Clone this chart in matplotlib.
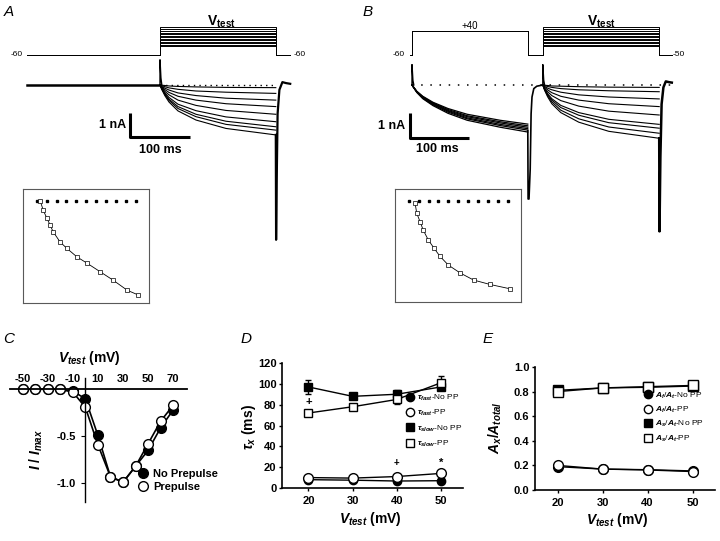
import matplotlib.pyplot as plt
from matplotlib.lines import Line2D

W, H = 720, 541

plt.rcParams['font.family'] = ['Liberation Sans', 'DejaVu Sans']
plt.rcParams['font.weight'] = 'bold'
plt.rcParams['axes.labelweight'] = 'bold'
plt.rcParams['axes.unicode_minus'] = False
plt.rcParams['mathtext.fontset'] = 'custom'
plt.rcParams['mathtext.rm'] = 'Liberation Sans:bold'
plt.rcParams['mathtext.it'] = 'Liberation Sans:italic:bold'
plt.rcParams['mathtext.bf'] = 'Liberation Sans:bold'

# ---------------- A: no prepulse (time in ms, current in nA)
t_hold_a = [-222, 0]
t_test_a = [0, 3, 8, 15, 30, 60, 110, 193]
traces_a = [
    [0, -0.01, -0.02, -0.04, -0.06, -0.08, -0.10, -0.11],
    [0, -0.03, -0.07, -0.12, -0.18, -0.25, -0.30, -0.35],
    [0, -0.06, -0.13, -0.21, -0.33, -0.44, -0.55, -0.63],
    [0, -0.08, -0.19, -0.31, -0.47, -0.63, -0.78, -0.90],
    [0, -0.11, -0.26, -0.41, -0.63, -0.85, -1.06, -1.22],
    [0, -0.14, -0.32, -0.52, -0.80, -1.07, -1.33, -1.53],
    [0, -0.16, -0.37, -0.59, -0.90, -1.22, -1.51, -1.74],
    [0, -0.17, -0.39, -0.64, -0.98, -1.32, -1.64, -1.88],
    [0, -0.19, -0.44, -0.71, -1.08, -1.46, -1.81, -2.08],
]
t_cap_a = [0, 0, 1.5, 3]
i_cap_a = [0, 1.05, 0.3, 0]
t_tail_a = [193, 193.5, 194.5, 196, 199, 204, 210, 217]
i_tail_a = [-2.08, -6.45, -4.0, -1.2, -0.2, 0.12, 0.08, 0.05]
prot_t_a = [-222, 0, 0, 193, 193, 217]

# ---------------- B: with +40 prepulse
t_pre_b = [0, 3, 8, 18, 35, 60, 92, 147, 193]
traces_pre_b = [
    [0, -0.10, -0.26, -0.47, -0.72, -0.98, -1.22, -1.47, -1.63],
    [0, -0.10, -0.27, -0.49, -0.75, -1.02, -1.28, -1.53, -1.70],
    [0, -0.11, -0.28, -0.51, -0.77, -1.06, -1.32, -1.58, -1.76],
    [0, -0.11, -0.29, -0.53, -0.80, -1.09, -1.37, -1.64, -1.82],
    [0, -0.11, -0.30, -0.55, -0.83, -1.13, -1.41, -1.69, -1.88],
    [0, -0.12, -0.31, -0.57, -0.86, -1.18, -1.47, -1.76, -1.96],
]
t_cap_b1 = [0, 0, 1.5, 3]
i_cap_b1 = [0, 0.85, 0.2, 0]
t_tail_b1 = [193, 193.5, 195, 197, 198.5, 200, 203, 208, 218]
i_tail_b1 = [-1.9, -4.75, -4.75, -3.5, -1.2, -0.5, -0.15, -0.05, 0]
t_cap_b2 = [218, 218, 219.5, 221]
i_cap_b2 = [0, 0.85, 0.2, 0]
t_test_b = [218, 221, 226, 233, 248, 278, 328, 412]
traces_test_b = [
    [0, -0.01, -0.02, -0.04, -0.05, -0.07, -0.09, -0.10],
    [0, -0.03, -0.06, -0.10, -0.15, -0.20, -0.24, -0.28],
    [0, -0.06, -0.13, -0.20, -0.30, -0.41, -0.50, -0.58],
    [0, -0.09, -0.20, -0.32, -0.47, -0.63, -0.78, -0.90],
    [0, -0.13, -0.28, -0.44, -0.65, -0.88, -1.09, -1.25],
    [0, -0.16, -0.36, -0.57, -0.85, -1.15, -1.43, -1.64],
    [0, -0.18, -0.40, -0.63, -0.94, -1.26, -1.57, -1.80],
    [0, -0.20, -0.44, -0.70, -1.05, -1.41, -1.75, -2.01],
    [0, -0.22, -0.49, -0.78, -1.15, -1.55, -1.93, -2.22],
]
t_tail_b2 = [412, 412.5, 414, 416, 419, 423, 428, 433]
i_tail_b2 = [-2.22, -6.1, -3.0, -0.8, -0.1, 0.15, 0.12, 0.1]
prot_t_b = [-3, 0, 0, 193, 193, 218, 218, 412, 412, 433]
prepulse_level = 24

# schematic heights of the V_test steps in the protocol drawings
vtest_levels = [9, 10.5, 12, 13.5, 15, 16.5, 18, 19.5, 21, 22.5, 24, 26, 28]

# insets: normalised fits
inset_dots_t = [-7, 13, 33, 53, 73, 93, 113, 133, 153, 173, 193]
inset_a_t = [0, 6, 13, 20, 26, 40, 54, 74, 95, 121, 147, 176, 198]
inset_a_i = [0, -0.10, -0.18, -0.26, -0.33, -0.44, -0.51, -0.60, -0.67, -0.76, -0.85, -0.96, -1.01]
inset_b_t = [5.5, 9, 16, 22, 32, 43, 56, 73, 97, 124, 157, 198]
inset_b_i = [-0.02, -0.14, -0.24, -0.33, -0.44, -0.53, -0.63, -0.73, -0.82, -0.90, -0.95, -1.0]

# ---------------- C: I-V
c_v = [-50, -40, -30, -20, -10, 0, 10, 20, 30, 40, 50, 60, 70]
c_nopp = [0, 0, 0, 0, -0.02, -0.10, -0.49, -0.93, -0.99, -0.82, -0.65, -0.41, -0.22]
c_pp = [0, 0, 0, 0, -0.03, -0.19, -0.59, -0.93, -0.99, -0.82, -0.58, -0.34, -0.17]
c_err = [0, 0, 0, 0, 0.01, 0.02, 0.03, 0.03, 0.04, 0.03, 0.03, 0.03, 0.02]

# ---------------- D: time constants
d_v = [20, 30, 40, 50]
fast_nopp = [8, 7.5, 6.7, 7]
fast_pp = [10, 9.5, 11, 14]
slow_nopp = [97, 88, 90, 97]
slow_pp = [72, 78, 85, 101]
fast_err = [1, 1, 1, 1.5]
slow_nopp_err = [7, 3, 4, 3]
slow_pp_err = [3, 3, 4, 7]

# ---------------- E: amplitude fractions
e_v = [20, 30, 40, 50]
af_nopp = [0.19, 0.17, 0.165, 0.155]
af_pp = [0.20, 0.17, 0.163, 0.15]
as_nopp = [0.81, 0.83, 0.835, 0.845]
as_pp = [0.80, 0.83, 0.84, 0.85]


fig = plt.figure(figsize=(7.2, 5.41), dpi=100)


def box(x0, y0, x1, y1):
    return fig.add_axes([x0 / W, 1 - y1 / H, (x1 - x0) / W, (y1 - y0) / H])


def ftext(x, y, s, **kw):
    fig.text(x / W, 1 - y / H, s, **kw)


# ---- trace panels
def trace_axes(x0, x1, t_zero):
    ax = box(x0, 50, x1, 310)
    ax.set_xlim((x0 - t_zero) / 0.6, (x1 - t_zero) / 0.6)
    ax.set_ylim(-(310 - 85) / 24, (85 - 50) / 24)
    ax.axis('off')
    return ax


def prot_axes(x0, x1, t_zero):
    ax = box(x0, 10, x1, 70)
    ax.set_xlim((x0 - t_zero) / 0.6, (x1 - t_zero) / 0.6)
    ax.set_ylim(-15, 45)
    ax.axis('off')
    return ax


# A
pa = prot_axes(0, 360, 160)
for L in vtest_levels:
    pa.plot(prot_t_a, [0, 0, L, L, 0, 0], color='k', lw=0.7)
pa.text(-228, 0, '-60', ha='right', va='center', fontsize=6, fontweight='normal')
pa.text(222, 0, '-60', ha='left', va='center', fontsize=6, fontweight='normal')
pa.text(103, 33, r'V$_{\rm test}$', ha='center', va='center', fontsize=10)

ta = trace_axes(0, 360, 160)
ta.plot(t_hold_a, [0, 0], color='k', lw=1.8)
ta.plot(t_cap_a, i_cap_a, color='k', lw=1.0)
ta.hlines(0, 0, 193, color='k', lw=1.0, linestyles=(0, (1, 3)))
for tr in traces_a:
    ta.plot(t_test_a, tr, color='k', lw=0.8)
ta.plot(t_tail_a, i_tail_a, color='k', lw=1.6)
ta.plot([-50, -50, 50], [-1.17, -2.17, -2.17], color='k', lw=2.2, solid_capstyle='butt')
ta.text(-57, -1.67, '1 nA', ha='right', va='center', fontsize=9)
ta.text(0, -2.7, '100 ms', ha='center', va='center', fontsize=9)

# B
pb = prot_axes(360, 720, 412)
for L in vtest_levels:
    pb.plot(prot_t_b, [0, 0, prepulse_level, prepulse_level, 0, 0, L, L, 0, 0], color='k', lw=0.7)
pb.text(-12, 0, '-60', ha='right', va='center', fontsize=6, fontweight='normal')
pb.text(435, 0, '-50', ha='left', va='center', fontsize=6, fontweight='normal')
pb.text(97, 29, '+40', ha='center', va='center', fontsize=7, fontweight='normal')
pb.text(315, 33, r'V$_{\rm test}$', ha='center', va='center', fontsize=10)

tb = trace_axes(360, 720, 412)
tb.plot(t_cap_b1, i_cap_b1, color='k', lw=1.0)
tb.hlines(0, 0, 433, color='k', lw=1.1, linestyles=(0, (1, 5)))
for tr in traces_pre_b:
    tb.plot(t_pre_b, tr, color='k', lw=0.9)
tb.plot(t_tail_b1, i_tail_b1, color='k', lw=1.2)
tb.plot(t_cap_b2, i_cap_b2, color='k', lw=1.0)
for tr in traces_test_b:
    tb.plot(t_test_b, tr, color='k', lw=0.8)
tb.plot(t_tail_b2, i_tail_b2, color='k', lw=1.8)
tb.plot([-3, -3, 95], [-1.17, -2.2, -2.2], color='k', lw=2.2, solid_capstyle='butt')
tb.text(-12, -1.7, '1 nA', ha='right', va='center', fontsize=9)
tb.text(42, -2.65, '100 ms', ha='center', va='center', fontsize=9)


# insets
def inset(x0, y0, x1, y1, tt, ii, bottom, top):
    ax = box(x0, y0, x1, y1)
    ax.set_xlim(-35, 220)
    ax.set_ylim(bottom, top)
    ax.set_xticks([])
    ax.set_yticks([])
    for s in ax.spines.values():
        s.set_linewidth(0.8)
        s.set_color('0.35')
    ax.plot(inset_dots_t, [0] * len(inset_dots_t), ls='none', marker='s', ms=1.6, color='k')
    ax.plot(tt, ii, color='k', lw=0.6, marker='s', ms=2.8, mfc='white', mec='k', mew=0.5)
    return ax


inset(23, 189, 149, 303, inset_a_t, inset_a_i, -1.097, 0.13)
inset(395, 189, 521, 302, inset_b_t, inset_b_i, -1.15, 0.136)

# ---- C
axc = box(10, 378, 187, 502)
axc.set_xlim(-60, 81)
axc.set_ylim(-1.2, 0.12)
axc.spines['top'].set_position(('data', 0))
axc.spines['left'].set_position(('data', 0))
axc.spines['bottom'].set_visible(False)
axc.spines['right'].set_visible(False)
axc.spines['top'].set_linewidth(1.3)
axc.spines['left'].set_linewidth(1.0)
axc.xaxis.tick_top()
axc.set_xticks([-50, -30, -10, 10, 30, 50, 70])
axc.tick_params(axis='x', length=0, pad=4, labelsize=8)
axc.set_yticks([-0.5, -1.0])
axc.set_yticklabels(['-0.5', '-1.0'])
axc.tick_params(axis='y', direction='out', length=3, labelsize=8)
axc.errorbar(c_v, c_nopp, yerr=c_err, fmt='-o', color='k', mfc='k', mec='k', ms=7, lw=1.2, capsize=0)
axc.errorbar(c_v, c_pp, yerr=c_err, fmt='-o', color='k', mfc='white', mec='k', ms=7, lw=1.2, capsize=0)
axc.xaxis.set_label_position('top')
axc.set_xlabel(r'$V_{test}$ (mV)', fontsize=10)
axc.xaxis.set_label_coords(0.45, 1.13)
axc.set_ylabel(r'$I$ / $I_{max}$', fontsize=10)
axc.yaxis.set_label_coords(0.2, 0.42)
hc = [Line2D([], [], ls='none', marker='o', ms=7, color='k', mfc='k'),
      Line2D([], [], ls='none', marker='o', ms=7, color='k', mfc='white')]
axc.legend(hc, ['No Prepulse', 'Prepulse'], loc='upper left', bbox_to_anchor=(0.72, 0.27),
           frameon=False, fontsize=8, handlelength=1, handletextpad=0.4,
           borderpad=0, borderaxespad=0, labelspacing=0.3)


# ---- D and E
def std_axes(ax):
    for s in ['top', 'right']:
        ax.spines[s].set_visible(False)
    for s in ['left', 'bottom']:
        ax.spines[s].set_linewidth(1.2)
    ax.tick_params(direction='out', length=2.5, width=1, labelsize=8, pad=1.5)


axd = box(282, 363, 463, 488)
std_axes(axd)
axd.set_xlim(14, 55)
axd.set_ylim(0, 120)
axd.set_xticks(d_v)
axd.set_yticks([0, 20, 40, 60, 80, 100, 120])
axd.tick_params(axis='x', pad=3)
axd.errorbar(d_v, fast_nopp, yerr=fast_err, fmt='-o', color='k', mfc='k', ms=6, lw=1, capsize=2)
axd.errorbar(d_v, fast_pp, yerr=fast_err, fmt='-o', color='k', mfc='white', ms=7, lw=1, capsize=2)
axd.errorbar(d_v, slow_nopp, yerr=slow_nopp_err, fmt='-s', color='k', mfc='k', ms=6, lw=1, capsize=2)
axd.errorbar(d_v, slow_pp, yerr=slow_pp_err, fmt='-s', color='k', mfc='white', ms=6, lw=1, capsize=2)
axd.text(20, 83, '+', ha='center', va='center', fontsize=8)
axd.text(40, 24, '+', ha='center', va='center', fontsize=7)
axd.text(50, 24, '*', ha='center', va='center', fontsize=8)
axd.set_xlabel(r'$V_{test}$ (mV)', fontsize=10)
axd.xaxis.set_label_coords(0.49, -0.18)
axd.set_ylabel(r'$\tau_x$ (ms)', fontsize=10)
axd.yaxis.set_label_coords(-0.13, 0.49)
hd = [Line2D([], [], ls='none', marker='o', ms=6, color='k', mfc='k'),
      Line2D([], [], ls='none', marker='o', ms=6, color='k', mfc='white'),
      Line2D([], [], ls='none', marker='s', ms=6, color='k', mfc='k'),
      Line2D([], [], ls='none', marker='s', ms=6, color='k', mfc='white')]
axd.legend(hd, [r'$\tau_{fast}$-No PP', r'$\tau_{fast}$-PP', r'$\tau_{slow}$-No PP', r'$\tau_{slow}$-PP'],
           loc='upper left', bbox_to_anchor=(0.685, 0.76), frameon=False,
           prop={'size': 6, 'weight': 'normal'}, handlelength=1, handletextpad=0.3,
           borderpad=0, borderaxespad=0, labelspacing=0.6)

axe = box(535, 367, 715, 490)
std_axes(axe)
axe.set_xlim(15, 55)
axe.set_ylim(0, 1.0)
axe.set_xticks(e_v)
axe.set_yticks([0, 0.2, 0.4, 0.6, 0.8, 1.0])
axe.set_yticklabels(['0.0', '0.2', '0.4', '0.6', '0.8', '1.0'])
axe.tick_params(axis='x', pad=3)
axe.plot(e_v, af_nopp, '-o', color='k', mfc='k', ms=7, lw=1)
axe.plot(e_v, af_pp, '-o', color='k', mfc='white', ms=7, lw=1)
axe.plot(e_v, as_nopp, '-s', color='k', mfc='k', ms=7, lw=1)
axe.plot(e_v, as_pp, '-s', color='k', mfc='white', ms=7, lw=1)
axe.set_xlabel(r'$V_{test}$ (mV)', fontsize=10)
axe.xaxis.set_label_coords(0.46, -0.17)
axe.set_ylabel(r'$A_x$/$A_{total}$', fontsize=10)
axe.yaxis.set_label_coords(-0.17, 0.51)
he = [Line2D([], [], ls='none', marker='o', ms=6, color='k', mfc='k'),
      Line2D([], [], ls='none', marker='o', ms=6, color='k', mfc='white'),
      Line2D([], [], ls='none', marker='s', ms=6, color='k', mfc='k'),
      Line2D([], [], ls='none', marker='s', ms=6, color='k', mfc='white')]
axe.legend(he, [r'$A_f$/$A_t$-No PP', r'$A_f$/$A_t$-PP', r'$A_s$/$A_t$-No PP', r'$A_s$/$A_t$-PP'],
           loc='upper left', bbox_to_anchor=(0.605, 0.81), frameon=False,
           prop={'size': 6, 'weight': 'normal'}, handlelength=1, handletextpad=0.3,
           borderpad=0, borderaxespad=0, labelspacing=0.5)

# panel letters
for lx, ly, s in [(9, 12, 'A'), (368, 12, 'B'), (9, 339, 'C'), (246, 339, 'D'), (488, 339, 'E')]:
    ftext(lx, ly, s, ha='center', va='center', fontsize=11, style='italic', fontweight='normal')

fig.savefig('out.png', dpi=100)
